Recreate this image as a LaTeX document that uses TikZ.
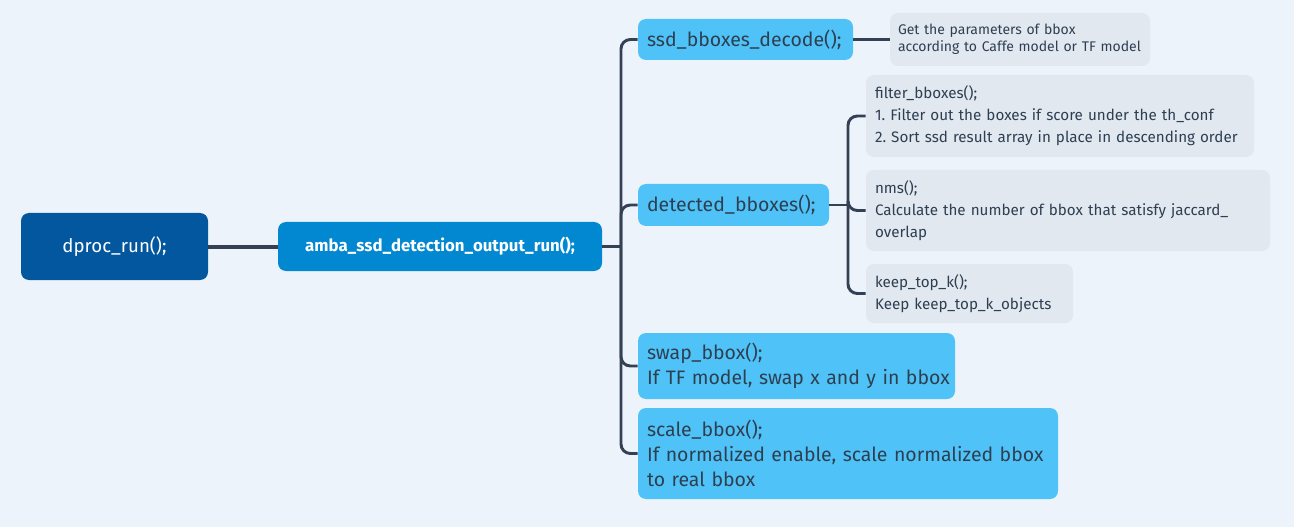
\documentclass[tikz,border=0pt]{standalone}
\usepackage{fontspec}
\setmainfont{Fira Sans}
\frenchspacing
\definecolor{bg}{HTML}{EDF3FA}
\definecolor{rootc}{HTML}{02579E}
\definecolor{mainc}{HTML}{0288D1}
\definecolor{subc}{HTML}{4FC3F7}
\definecolor{grayc}{HTML}{E1E8F0}
\definecolor{linec}{HTML}{344154}
\definecolor{txtc}{HTML}{2E3F52}
\tikzset{
  base/.style={rectangle, rounded corners=6pt, inner ysep=0pt, anchor=center},
  rootbox/.style={base, fill=rootc, text=white, font=\fontsize{14}{16}\selectfont, minimum width=140.25pt, minimum height=50.25pt},
  mainbox/.style={base, fill=mainc, text=white, font=\bfseries\fontsize{12.6}{14}\selectfont, minimum width=243pt, minimum height=36.75pt},
  subbox/.style={base, fill=subc, text=txtc, font=\fontsize{14.6}{18.75}\selectfont, align=left, inner xsep=6.75pt},
  graybox/.style={base, fill=grayc, text=txtc, font=\fontsize{11.4}{16.5}\selectfont, align=left, inner xsep=6.75pt},
  descbox/.style={base, fill=grayc, text=txtc, font=\fontsize{10.5}{12.75}\selectfont, align=left, inner xsep=6pt},
  conn/.style={draw=linec, line width=2.2pt, rounded corners=7pt},
  thickconn/.style={draw=linec, line width=3pt}
}
\begin{document}
\begin{tikzpicture}[x=0.75pt,y=-0.75pt]
\fill[bg] (0,0) rectangle (1294,527);
\useasboundingbox (0,0) rectangle (1294,527);

\node[rootbox] (root) at (114.5,246.5) {dproc\_run();};
\node[mainbox] (main) at (440,246.5) {amba\_ssd\_detection\_output\_run();};

\node[subbox, text width=147.75pt, minimum height=30.75pt] (ssd) at (745.5,39.5) {\mbox{ssd\_bboxes\_decode();}};
\node[descbox, text width=183pt, minimum height=39.75pt] (desc) at (1020,39.5) {\mbox{Get the parameters of bbox}\\\mbox{according to Caffe model or TF model}};

\node[subbox, text width=129.75pt, minimum height=31.5pt] (det) at (733.5,205) {\mbox{detected\_bboxes();}};
\node[graybox, text width=277.5pt, minimum height=61.5pt] (filt) at (1060,116) {\mbox{filter\_bboxes();}\\\mbox{1. Filter out the boxes if score under the th\_conf}\\\mbox{2. Sort ssd result array in place in descending order}};
\node[graybox, text width=289.5pt, minimum height=60.75pt] (nms) at (1068,210.5) {\mbox{nms();}\\\mbox{Calculate the number of bbox that satisfy jaccard\_}\\\mbox{overlap}};
\node[graybox, text width=141.75pt, minimum height=44.25pt] (keep) at (969.5,293.5) {\mbox{keep\_top\_k();}\\\mbox{Keep keep\_top\_k\_objects}};

\node[subbox, text width=224.25pt, minimum height=49.5pt] (swap) at (796.5,366) {\mbox{swap\_bbox();}\\\mbox{If TF model, swap x and y in bbox}};
\node[subbox, text width=301.5pt, minimum height=68.25pt] (scale) at (848,453.5) {\mbox{scale\_bbox();}\\\mbox{If normalized enable, scale normalized bbox}\\\mbox{to real bbox}};

\coordinate (trunk) at (621,246.5);
\coordinate (dj) at (848,205);

\draw[thickconn] (root.east) -- (main.west);
\draw[conn] (main.east) -- (trunk);
\draw[conn] (trunk) |- (ssd.west);
\draw[conn] (trunk) |- (det.west);
\draw[conn] (trunk) |- (swap.west);
\draw[conn] (trunk) |- (scale.west);
\draw[conn] (ssd.east) -- (desc.west);
\draw[conn] (det.east) -- (dj);
\draw[conn] (dj) |- (filt.west);
\draw[conn] (dj) |- (nms.west);
\draw[conn] (dj) |- (keep.west);
\end{tikzpicture}
\end{document}
